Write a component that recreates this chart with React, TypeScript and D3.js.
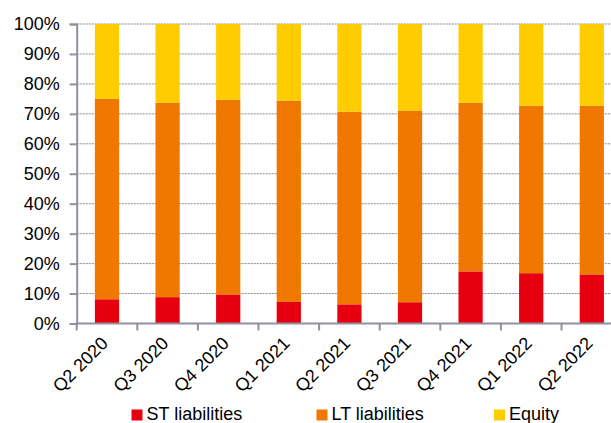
import React, { useEffect, useRef } from "react";
import * as d3 from "d3";

// quarters on the x axis
const quarters = ["Q2 2020", "Q3 2020", "Q4 2020", "Q1 2021", "Q2 2021", "Q3 2021", "Q4 2021", "Q1 2022", "Q2 2022"];

// shares in percent
const stLiabilities = [8.1, 8.8, 9.7, 7.2, 6.4, 7.1, 17.4, 16.8, 16.4];
const ltLiabilities = [66.9, 64.9, 65.0, 67.2, 64.3, 64.0, 56.3, 55.9, 56.3];
const equity = [25.0, 26.3, 25.3, 25.6, 29.3, 28.9, 26.3, 27.3, 27.3];

const seriesKeys = ["st", "lt", "eq"];
const seriesNames = ["ST liabilities", "LT liabilities", "Equity"];
const seriesColors = ["#E6000F", "#F07800", "#FFCC00"];

const yTicks = [0, 10, 20, 30, 40, 50, 60, 70, 80, 90, 100];

const width = 611;
const height = 423;

export default function App() {
  const ref = useRef<SVGSVGElement>(null);

  useEffect(() => {
    const svg = d3.select(ref.current);
    svg.selectAll("*").remove();

    const data = quarters.map((q, i) => ({ q, st: stLiabilities[i], lt: ltLiabilities[i], eq: equity[i] }));

    const x0 = 76.7;
    const step = 60.6;
    const xScale = d3.scaleBand()
      .domain(quarters)
      .range([x0, x0 + step * quarters.length])
      .paddingInner(0.6)
      .paddingOuter(0.3);

    const yScale = d3.scaleLinear().domain([0, 100]).range([323.5, 24]);

    const font = "Arial, 'Liberation Sans', sans-serif";

    // gridlines
    svg.append("g")
      .selectAll("line")
      .data(yTicks.filter(t => t > 0))
      .join("line")
      .attr("x1", x0)
      .attr("x2", width)
      .attr("y1", d => yScale(d))
      .attr("y2", d => yScale(d))
      .attr("stroke", "#8a8a94")
      .attr("stroke-width", 1)
      .attr("stroke-dasharray", "2,1");

    // stacked bars
    const stacked = d3.stack<any>().keys(seriesKeys)(data);
    svg.append("g")
      .selectAll("g")
      .data(stacked)
      .join("g")
      .attr("fill", (d, i) => seriesColors[i])
      .selectAll("rect")
      .data(d => d)
      .join("rect")
      .attr("x", d => xScale(d.data.q)!)
      .attr("y", d => yScale(d[1]))
      .attr("height", d => yScale(d[0]) - yScale(d[1]))
      .attr("width", xScale.bandwidth());

    // y axis
    const yAxis = svg.append("g")
      .attr("transform", `translate(${x0},0)`)
      .call(d3.axisLeft(yScale).tickValues(yTicks).tickSize(7).tickPadding(10).tickFormat(d => `${d}%`));
    yAxis.select(".domain").attr("stroke", "#9090a0").attr("stroke-width", 2);
    yAxis.selectAll(".tick line").attr("stroke", "#9090a0").attr("stroke-width", 2);
    yAxis.selectAll("text")
      .attr("font-family", font)
      .attr("font-size", 18)
      .attr("fill", "#000");

    // x axis line
    svg.append("line")
      .attr("x1", x0 - 1)
      .attr("x2", width)
      .attr("y1", yScale(0))
      .attr("y2", yScale(0))
      .attr("stroke", "#9090a0")
      .attr("stroke-width", 2);

    // tick marks between bands
    svg.append("g")
      .selectAll("line")
      .data(d3.range(quarters.length + 1))
      .join("line")
      .attr("x1", i => x0 + i * step)
      .attr("x2", i => x0 + i * step)
      .attr("y1", yScale(0))
      .attr("y2", yScale(0) + 7)
      .attr("stroke", "#9090a0")
      .attr("stroke-width", 2);

    // rotated x labels
    svg.append("g")
      .selectAll("text")
      .data(quarters)
      .join("text")
      .attr("transform", d => `translate(${xScale(d)! + xScale.bandwidth() / 2 + 2},${yScale(0) + 21}) rotate(-45)`)
      .attr("text-anchor", "end")
      .attr("font-family", font)
      .attr("font-size", 18)
      .attr("fill", "#000")
      .text(d => d);

    // legend
    const legendX = [131.5, 316.5, 494];
    const legend = svg.append("g");
    seriesNames.forEach((name, i) => {
      legend.append("rect")
        .attr("x", legendX[i])
        .attr("y", 409.5)
        .attr("width", 11)
        .attr("height", 11)
        .attr("fill", seriesColors[i]);
      legend.append("text")
        .attr("x", legendX[i] + 15)
        .attr("y", 419.5)
        .attr("font-family", font)
        .attr("font-size", 18)
        .attr("fill", "#000")
        .text(name);
    });
  }, []);

  return (
    <svg ref={ref} width={width} height={height} style={{ position: "absolute", left: 0, top: 0, background: "#fff" }} />
  );
}
